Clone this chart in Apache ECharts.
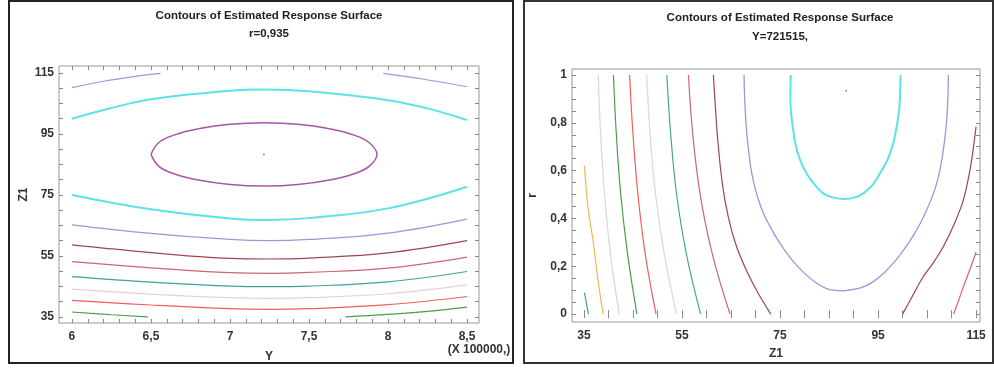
<!DOCTYPE html>
<html>
<head>
<meta charset="utf-8">
<script src="https://cdn.jsdelivr.net/npm/echarts@6/dist/echarts.min.js"></script>
<style>
  html, body { margin: 0; padding: 0; background: #fff; }
  #chart { width: 994px; height: 369px; }
</style>
</head>
<body>
<div id="chart"></div>
<script>
// left panel: Z1 vs Y (x 100000), r = 0,935
const yTicks = [6, 6.5, 7, 7.5, 8, 8.5]
const z1TicksLeft = [35, 55, 75, 95, 115]
const leftTopLavenderA = [[6.0, 110.2], [6.2, 112.3], [6.4, 113.9], [6.56, 114.9]]
const leftTopLavenderB = [[7.97, 114.9], [8.2, 113.2], [8.5, 110.5]]
const leftCyanUpper = [[6.0, 100.0], [6.25, 103.5], [6.5, 106.4], [7.0, 109.2], [7.22, 109.6], [7.5, 109.0], [8.0, 106.1], [8.25, 103.4], [8.5, 99.6]]
const leftEllipse = [
  [6.5, 88.3], [6.55, 92.2], [6.65, 94.7], [6.8, 96.7], [7.0, 98.2], [7.22, 98.7], [7.43, 98.2], [7.63, 96.7],
  [7.78, 94.7], [7.88, 92.2], [7.93, 88.3], [7.88, 84.4], [7.78, 81.9], [7.63, 79.9], [7.43, 78.4], [7.22, 77.9],
  [7.0, 78.4], [6.8, 79.9], [6.65, 81.9], [6.55, 84.4], [6.5, 88.3]
]
const leftCyanLower = [[6.0, 75.0], [6.5, 70.3], [7.0, 67.3], [7.25, 66.8], [7.5, 67.4], [8.0, 70.6], [8.5, 77.7]]
const leftLavender = [[6.0, 65.2], [6.5, 62.4], [7.0, 60.4], [7.25, 60.0], [7.5, 60.4], [8.0, 62.5], [8.5, 67.1]]
const leftMaroon = [[6.0, 58.6], [6.5, 56.1], [7.0, 54.2], [7.25, 54.0], [7.5, 54.3], [8.0, 56.0], [8.5, 60.0]]
const leftRosy = [[6.0, 53.1], [6.5, 51.1], [7.0, 49.5], [7.25, 49.3], [7.5, 49.6], [8.0, 51.0], [8.5, 54.6]]
const leftTeal = [[6.0, 48.2], [6.5, 46.4], [7.0, 45.1], [7.25, 44.9], [7.5, 45.1], [8.0, 46.5], [8.5, 49.9]]
const leftPale = [[6.0, 44.1], [6.5, 42.5], [7.0, 41.3], [7.25, 41.1], [7.5, 41.3], [8.0, 42.6], [8.5, 45.5]]
const leftRed = [[6.0, 40.4], [6.5, 38.9], [7.0, 37.7], [7.25, 37.5], [7.5, 37.7], [8.0, 39.0], [8.5, 41.7]]
const leftGreenA = [[6.0, 36.6], [6.25, 35.7], [6.48, 35.0]]
const leftGreenB = [[7.73, 35.0], [8.0, 35.8], [8.25, 36.8], [8.5, 38.2]]
const leftOptimum = [[7.215, 88.3]]

// right panel: r vs Z1, Y = 721515
const z1TicksRight = [35, 55, 75, 95, 115]
const rTicks = [0, 0.2, 0.4, 0.6, 0.8, 1]
const rightTeal = [[35.1, 0.09], [35.9, 0]]
const rightOrange = [[35.1, 0.62], [35.8, 0.45], [36.9, 0.3], [37.8, 0.15], [38.9, 0]]
const rightPale1 = [[37.9, 1], [38.4, 0.75], [39.2, 0.5], [40.4, 0.25], [42.2, 0]]
const rightGreen = [[41.0, 1], [41.6, 0.75], [42.5, 0.5], [43.9, 0.25], [45.8, 0]]
const rightRed = [[44.3, 1], [45.0, 0.75], [46.0, 0.5], [47.5, 0.25], [49.7, 0]]
const rightPale2 = [[47.8, 1], [48.5, 0.75], [49.6, 0.5], [51.4, 0.25], [53.9, 0]]
const rightSeaGreen = [[51.9, 1], [52.7, 0.75], [53.9, 0.5], [55.9, 0.25], [58.8, 0]]
const rightRosy = [[56.3, 1], [57.2, 0.75], [58.7, 0.5], [61.2, 0.25], [64.8, 0]]
const rightMaroon = [[61.4, 1], [62.2, 0.75], [63.2, 0.55], [64.4, 0.41], [66.0, 0.29], [68.2, 0.18], [70.6, 0.085], [73.1, 0]]
const rightLavender = [
  [67.65, 1], [67.8, 0.89], [68.1, 0.784], [68.5, 0.7], [69.0, 0.616], [69.7, 0.545], [70.6, 0.477], [71.7, 0.418],
  [73.0, 0.365], [74.6, 0.308], [76.4, 0.254], [78.3, 0.206], [80.4, 0.163], [82.4, 0.13], [84.5, 0.107], [86.2, 0.099],
  [87.9, 0.097], [90.0, 0.103], [92.0, 0.114], [94.1, 0.137], [96.1, 0.17], [98.2, 0.215], [100.2, 0.268],
  [102.0, 0.322], [103.6, 0.379], [105.0, 0.44], [106.3, 0.505], [107.3, 0.573], [108.0, 0.644], [108.6, 0.73],
  [109.0, 0.812], [109.25, 0.9], [109.35, 1]
]
const rightCyan = [
  [77.2, 1], [77.1, 0.923], [77.2, 0.854], [77.6, 0.784], [78.1, 0.714], [79.1, 0.644], [80.4, 0.589],
  [82.1, 0.54], [83.8, 0.505], [85.9, 0.487], [88.1, 0.481], [90.3, 0.488], [92.0, 0.505], [93.9, 0.54],
  [95.4, 0.589], [96.9, 0.644], [98.1, 0.714], [98.8, 0.784], [99.3, 0.854], [99.5, 0.923], [99.6, 1]
]
const rightMaroon2 = [[100.0, 0], [102.0, 0.075], [104.2, 0.156], [106.3, 0.215], [108.3, 0.282], [110.5, 0.375], [112.4, 0.477], [113.9, 0.62], [115.0, 0.784]]
const rightRosy2 = [[110.4, 0], [111.4, 0.055], [112.4, 0.114], [113.8, 0.19], [115.0, 0.26]]
const rightOptimum = [[88.5, 0.934]]

const comma = (v) => String(v).replace('.', ',')
const range = (a, b, step) => {
  const out = []
  for (let v = a; v <= b + 1e-9; v += step) out.push(Math.round(v * 1000) / 1000)
  return out
}

const labelFont = { fontFamily: 'Liberation Sans, Arial, sans-serif', fontWeight: 'bold', fontSize: 12, color: '#333' }
const tickStyle = { lineStyle: { color: '#888', width: 1 } }

function frameAxes(kind, gridIndex, min, max, labels, ticks, name, nameGap) {
  const main = {
    type: 'value', gridIndex, min, max,
    position: kind === 'x' ? 'bottom' : 'left',
    axisLine: { show: false },
    splitLine: { show: false },
    axisTick: { show: true, inside: true, length: 4, customValues: ticks, ...tickStyle },
    axisLabel: { ...labelFont, customValues: labels, formatter: comma, margin: kind === 'x' ? 8 : 5 },
    name, nameLocation: 'middle', nameGap,
    nameTextStyle: { ...labelFont, fontSize: 12 },
  }
  const other = {
    type: 'value', gridIndex, min, max,
    position: kind === 'x' ? 'top' : 'right',
    axisLine: { show: false },
    splitLine: { show: false },
    axisTick: { show: true, inside: true, length: 4, customValues: ticks, ...tickStyle },
    axisLabel: { show: false },
  }
  return [main, other]
}

const xAxes = [
  ...frameAxes('x', 0, 5.918, 8.576, yTicks, range(6, 8.5, 0.1), 'Y', 28),
  ...frameAxes('x', 1, 32.55, 115.8, z1TicksRight, range(35, 115, 5), 'Z1', 26),
]
const yAxes = [
  ...frameAxes('y', 0, 33.0, 117.3, z1TicksLeft, range(35, 115, 5), 'Z1', 29),
  ...frameAxes('y', 1, -0.033, 1.025, rTicks, range(0, 1, 0.05), 'r', 33),
]

function curve(data, color, xi, yi, width, smooth) {
  return {
    type: 'line', data, xAxisIndex: xi, yAxisIndex: yi,
    showSymbol: false, smooth: smooth === undefined ? 0.4 : smooth,
    lineStyle: { color, width: width || 1.2 },
    silent: true, animation: false,
  }
}

const C = {
  lavender: '#9e96d8', cyan: '#5ce2e8', purple: '#a954a9', maroon: '#a2444f', rosy: '#cc6672',
  teal: '#43a0a0', pale: '#e4d2d9', red: '#f25c5c', green: '#4c9c4c', orange: '#f6b453',
  paleGray: '#d6d6e2', seaGreen: '#45a88e',
}

const series = [
  curve(leftTopLavenderA, C.lavender, 0, 0),
  curve(leftTopLavenderB, C.lavender, 0, 0),
  curve(leftCyanUpper, C.cyan, 0, 0, 2),
  curve(leftEllipse, C.purple, 0, 0, 1.5),
  curve(leftCyanLower, C.cyan, 0, 0, 2),
  curve(leftLavender, C.lavender, 0, 0, 1.3),
  curve(leftMaroon, C.maroon, 0, 0),
  curve(leftRosy, C.rosy, 0, 0),
  curve(leftTeal, C.teal, 0, 0),
  curve(leftPale, C.pale, 0, 0),
  curve(leftRed, C.red, 0, 0),
  curve(leftGreenA, C.green, 0, 0),
  curve(leftGreenB, C.green, 0, 0),
  { type: 'scatter', data: leftOptimum, xAxisIndex: 0, yAxisIndex: 0, symbolSize: 2, itemStyle: { color: '#777' }, silent: true },

  curve(rightTeal, C.teal, 2, 2),
  curve(rightOrange, C.orange, 2, 2),
  curve(rightPale1, C.paleGray, 2, 2),
  curve(rightGreen, C.green, 2, 2),
  curve(rightRed, C.red, 2, 2),
  curve(rightPale2, C.pale, 2, 2),
  curve(rightSeaGreen, C.seaGreen, 2, 2),
  curve(rightRosy, C.rosy, 2, 2),
  curve(rightMaroon, C.maroon, 2, 2, 1.2, 0.3),
  curve(rightLavender, C.lavender, 2, 2, 1.3, 0.3),
  curve(rightCyan, C.cyan, 2, 2, 2, 0.3),
  curve(rightMaroon2, C.maroon, 2, 2, 1.2, 0.3),
  curve(rightRosy2, C.rosy, 2, 2, 1.2, 0.3),
  { type: 'scatter', data: rightOptimum, xAxisIndex: 2, yAxisIndex: 2, symbolSize: 2, itemStyle: { color: '#777' }, silent: true },
]

const titleFont = 'bold 11.5px "Liberation Sans", Arial, sans-serif'

const chart = echarts.init(document.getElementById('chart'), null, { renderer: 'canvas' })
chart.setOption({
  animation: false,
  backgroundColor: '#fff',
  grid: [
    { left: 59, top: 66, width: 420, height: 257, show: true, borderColor: '#999', borderWidth: 1 },
    { left: 572, top: 69, width: 408, height: 253, show: true, borderColor: '#999', borderWidth: 1 },
  ],
  xAxis: xAxes,
  yAxis: yAxes,
  series,
  graphic: [
    { type: 'rect', shape: { x: 9, y: 1, width: 504, height: 362 }, style: { fill: 'none', stroke: '#222', lineWidth: 2 } },
    { type: 'rect', shape: { x: 524, y: 1, width: 469, height: 362 }, style: { fill: 'none', stroke: '#333', lineWidth: 2 } },
    { type: 'text', x: 269, y: 16, style: { text: 'Contours of Estimated Response Surface', font: titleFont, fill: '#222', align: 'center', verticalAlign: 'middle' } },
    { type: 'text', x: 269, y: 34, style: { text: 'r=0,935', font: titleFont, fill: '#222', align: 'center', verticalAlign: 'middle' } },
    { type: 'text', x: 780, y: 18, style: { text: 'Contours of Estimated Response Surface', font: titleFont, fill: '#222', align: 'center', verticalAlign: 'middle' } },
    { type: 'text', x: 780, y: 37, style: { text: 'Y=721515,', font: titleFont, fill: '#222', align: 'center', verticalAlign: 'middle' } },
    { type: 'text', x: 479, y: 350, style: { text: '(X 100000,)', font: 'bold 12px "Liberation Sans", Arial, sans-serif', fill: '#333', align: 'center', verticalAlign: 'middle' } },
  ],
})
</script>
</body>
</html>
